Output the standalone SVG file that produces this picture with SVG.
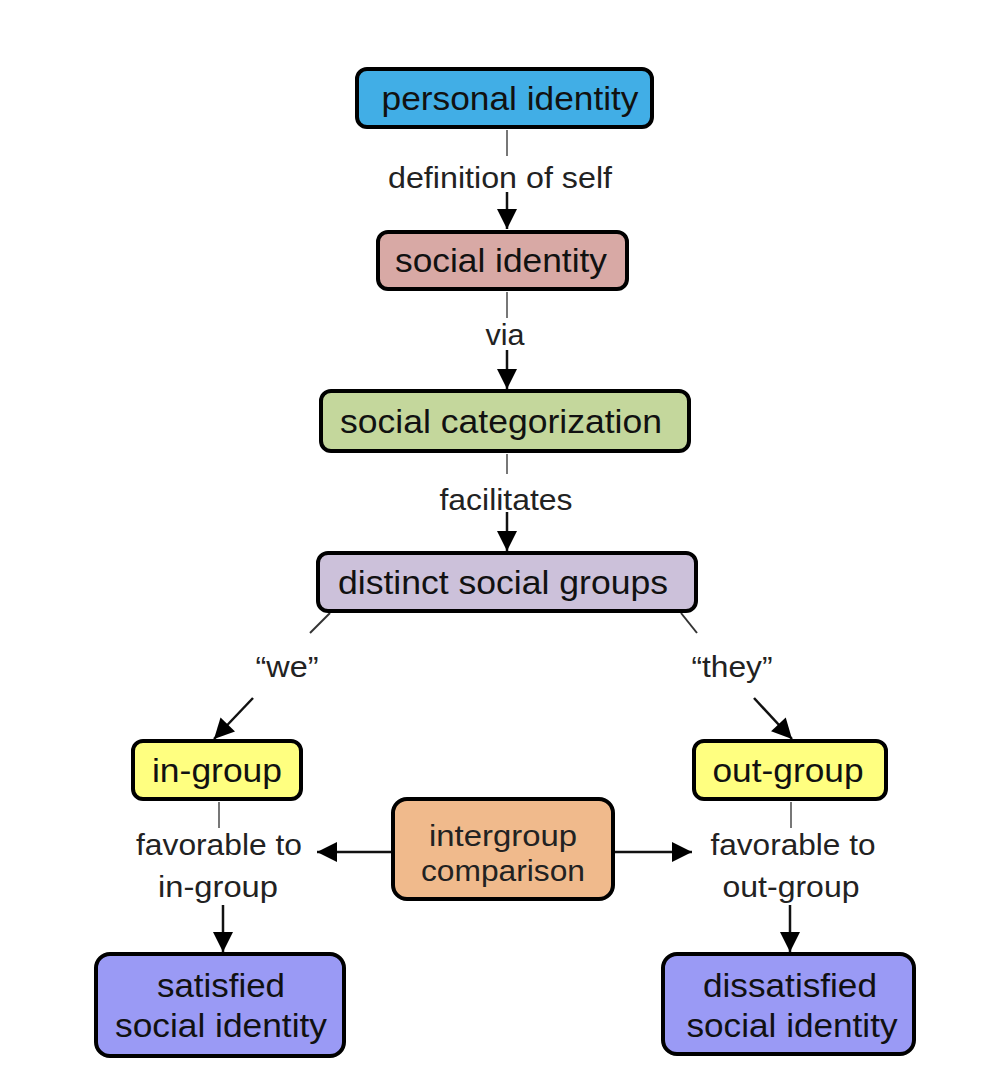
<svg xmlns="http://www.w3.org/2000/svg" width="990" height="1086" viewBox="0 0 990 1086">
<style>
.box{stroke:#000;stroke-width:4}
.nt{font-family:"Liberation Sans",Arial,sans-serif;font-size:34px;fill:#111;text-anchor:middle}
.lt{font-family:"Liberation Sans",Arial,sans-serif;font-size:29px;fill:#222;text-anchor:middle}
.g{stroke:#777;stroke-width:2;fill:none}
.a{stroke:#111;stroke-width:2.5;fill:none;marker-end:url(#ah)}
</style>
<defs>
<marker id="ah" markerWidth="22" markerHeight="22" refX="0" refY="0" orient="auto" markerUnits="userSpaceOnUse" viewBox="-21 -11 22 22">
<path d="M-20,-10 L0,0 L-20,10 Z" fill="#000"/>
</marker>
</defs>
<rect width="990" height="1086" fill="#fff"/>
<g id="connectors">
<line class="g" x1="507" y1="130" x2="507" y2="156"/>
<line class="a" x1="507" y1="192" x2="507" y2="229"/>
<line class="g" x1="507" y1="292" x2="507" y2="318"/>
<line class="a" x1="507" y1="350" x2="507" y2="389"/>
<line class="g" x1="507" y1="454" x2="507" y2="474"/>
<line class="a" x1="507" y1="512" x2="507" y2="551"/>
<line class="g" x1="330" y1="613" x2="310" y2="633" style="stroke:#333"/>
<line class="a" x1="253" y1="698" x2="214" y2="739"/>
<line class="g" x1="681" y1="613" x2="697" y2="633" style="stroke:#333"/>
<line class="a" x1="754" y1="698" x2="792" y2="739"/>
<line class="g" x1="219" y1="802" x2="219" y2="828"/>
<line class="a" x1="223" y1="905" x2="223" y2="952"/>
<line class="g" x1="791" y1="802" x2="791" y2="828"/>
<line class="a" x1="790" y1="905" x2="790" y2="952"/>
<line class="a" x1="392" y1="852" x2="317" y2="852"/>
<line class="a" x1="614" y1="852" x2="692" y2="852"/>
<text class="lt" x="500" y="188" textLength="224" lengthAdjust="spacingAndGlyphs">definition of self</text>
<text class="lt" x="505" y="345" textLength="39" lengthAdjust="spacingAndGlyphs">via</text>
<text class="lt" x="506" y="510" textLength="133" lengthAdjust="spacingAndGlyphs">facilitates</text>
<text class="lt" x="287" y="677" textLength="63" lengthAdjust="spacingAndGlyphs">“we”</text>
<text class="lt" x="732" y="677" textLength="81" lengthAdjust="spacingAndGlyphs">“they”</text>
<text class="lt" x="219" y="855" textLength="166" lengthAdjust="spacingAndGlyphs">favorable to</text>
<text class="lt" x="218" y="897" textLength="120" lengthAdjust="spacingAndGlyphs">in-group</text>
<text class="lt" x="793" y="855" textLength="165" lengthAdjust="spacingAndGlyphs">favorable to</text>
<text class="lt" x="791" y="897" textLength="137" lengthAdjust="spacingAndGlyphs">out-group</text>
</g>
<g id="personal-identity">
<rect class="box" x="357" y="69" width="295" height="58" rx="10" fill="#41aee6"/>
<text class="nt" x="510" y="110" textLength="257" lengthAdjust="spacingAndGlyphs">personal identity</text>
</g>
<g id="social-identity">
<rect class="box" x="378" y="232" width="249" height="57" rx="10" fill="#d8a9a5"/>
<text class="nt" x="501" y="272" textLength="212" lengthAdjust="spacingAndGlyphs">social identity</text>
</g>
<g id="social-categorization">
<rect class="box" x="321" y="391" width="368" height="60" rx="10" fill="#c4d79c"/>
<text class="nt" x="501" y="433" textLength="322" lengthAdjust="spacingAndGlyphs">social categorization</text>
</g>
<g id="distinct-social-groups">
<rect class="box" x="318" y="553" width="378" height="58" rx="10" fill="#ccc1da"/>
<text class="nt" x="503" y="594" textLength="330" lengthAdjust="spacingAndGlyphs">distinct social groups</text>
</g>
<g id="in-group">
<rect class="box" x="133" y="741" width="168" height="58" rx="10" fill="#ffff80"/>
<text class="nt" x="217" y="782" textLength="130" lengthAdjust="spacingAndGlyphs">in-group</text>
</g>
<g id="out-group">
<rect class="box" x="694" y="741" width="192" height="58" rx="10" fill="#ffff80"/>
<text class="nt" x="788" y="782" textLength="151" lengthAdjust="spacingAndGlyphs">out-group</text>
</g>
<g id="intergroup-comparison">
<rect class="box" x="393" y="799" width="220" height="100" rx="14" fill="#f0ba8c"/>
<text class="lt" x="503" y="846" textLength="148" lengthAdjust="spacingAndGlyphs">intergroup</text>
<text class="lt" x="503" y="881" textLength="164" lengthAdjust="spacingAndGlyphs">comparison</text>
</g>
<g id="satisfied-social-identity">
<rect class="box" x="96" y="954" width="248" height="102" rx="14" fill="#9a9af5"/>
<text class="nt" x="221" y="997" textLength="128" lengthAdjust="spacingAndGlyphs">satisfied</text>
<text class="nt" x="221" y="1037" textLength="212" lengthAdjust="spacingAndGlyphs">social identity</text>
</g>
<g id="dissatisfied-social-identity">
<rect class="box" x="663" y="954" width="251" height="100" rx="14" fill="#9a9af5"/>
<text class="nt" x="790" y="997" textLength="174" lengthAdjust="spacingAndGlyphs">dissatisfied</text>
<text class="nt" x="792" y="1037" textLength="211" lengthAdjust="spacingAndGlyphs">social identity</text>
</g>
</svg>
